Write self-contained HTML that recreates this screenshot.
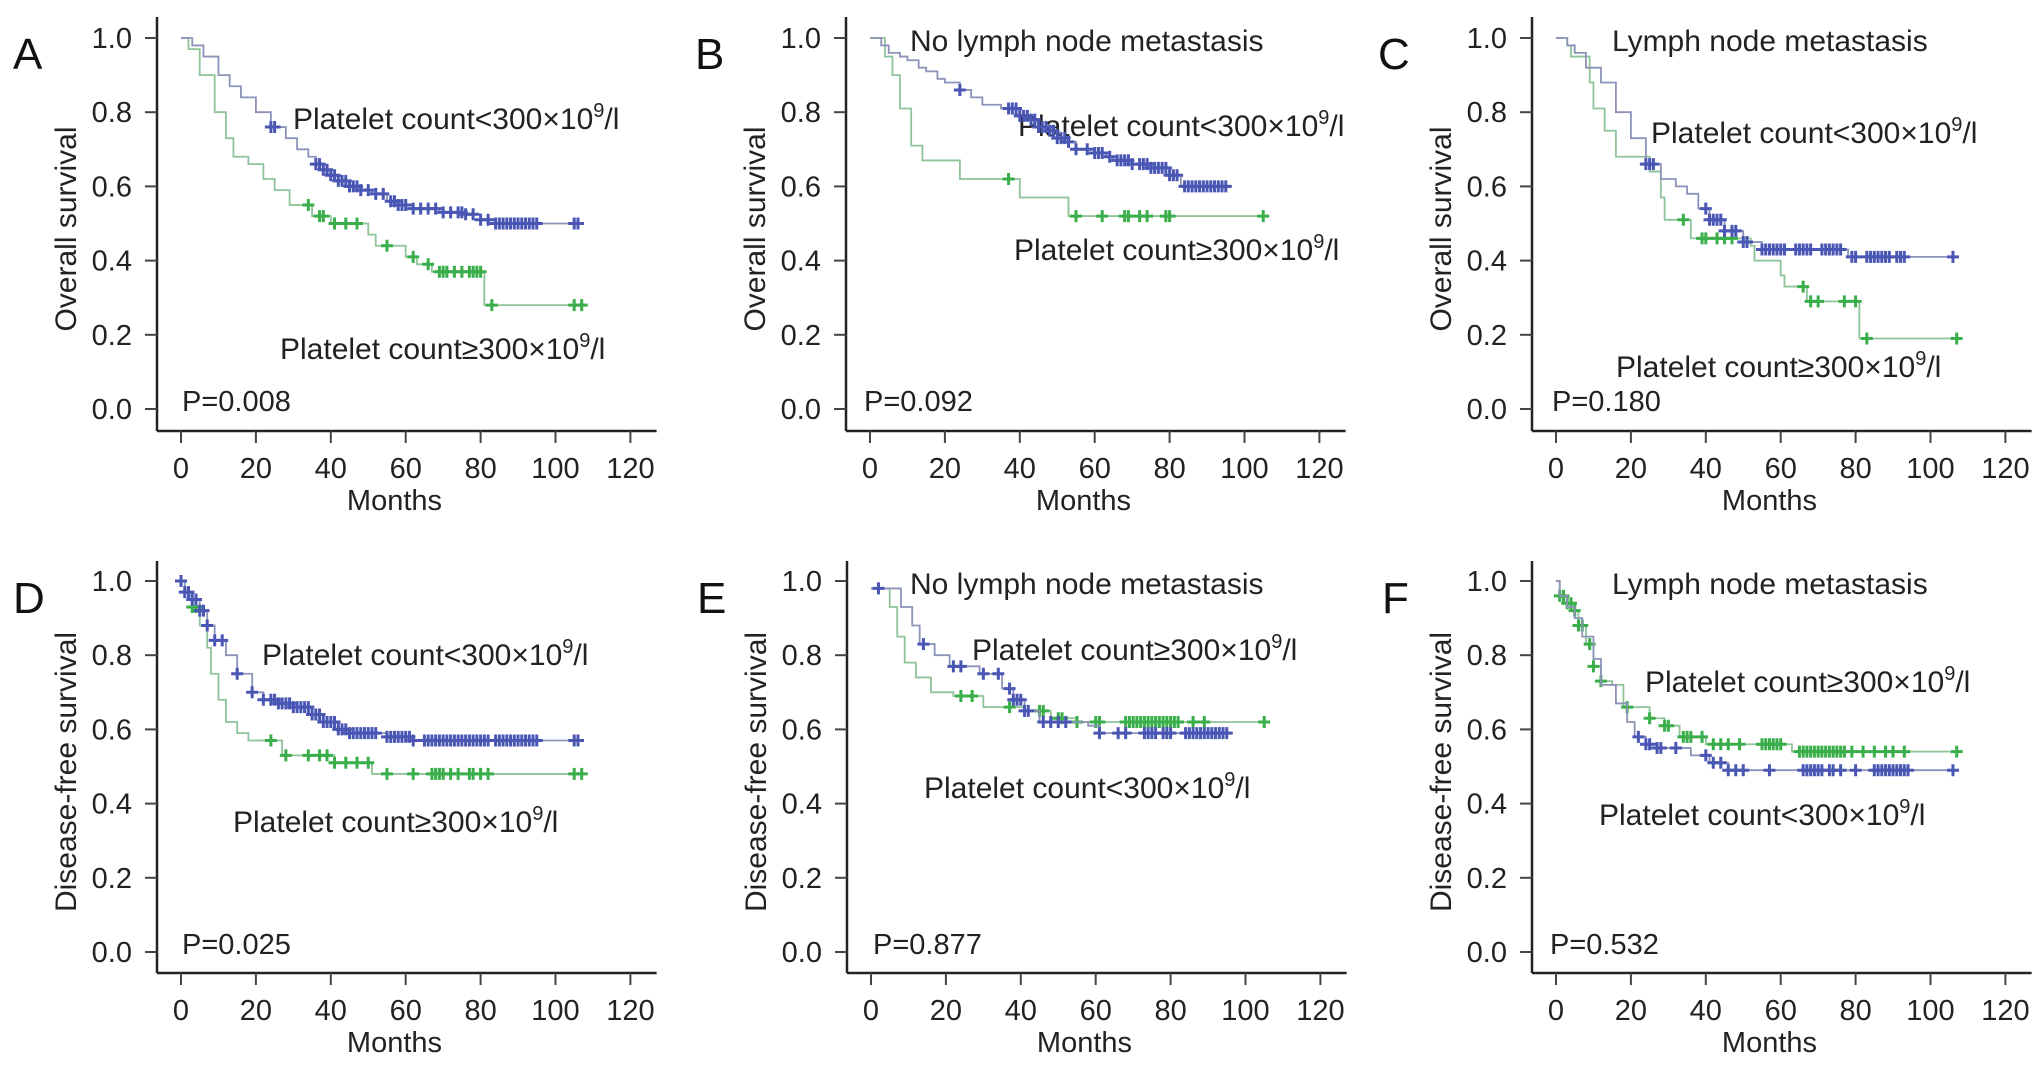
<!DOCTYPE html>
<html><head><meta charset="utf-8"><style>
html,body{margin:0;padding:0;background:#fff;}
svg{display:block;font-family:"Liberation Sans",Arial,sans-serif;}
</style></head><body>
<svg id="fig" width="2032" height="1066" viewBox="0 0 2032 1066" xmlns="http://www.w3.org/2000/svg"></svg>
<script>
// ---------- data (months, survival) ----------
const ticksX = [0,20,40,60,80,100,120];
const ticksY = [0.0,0.2,0.4,0.6,0.8,1.0];
const tickLabelsY = ["0.0","0.2","0.4","0.6","0.8","1.0"];

// Panel A
const aBlueT = [0,3,6,10,13,16,20,24,28,31,34,36,38,40,42,45,48,51,55,58,62,69,76,80,84];
const aBlueS = [1,0.98,0.95,0.90,0.87,0.84,0.80,0.76,0.73,0.70,0.68,0.66,0.645,0.63,0.615,0.60,0.59,0.58,0.56,0.55,0.54,0.53,0.525,0.51,0.50];
const aBlueC = [24,25,36,37,38,39,40,41,42,43,44,45,46,47,48,50,52,54,56,57,58,59,60,62,64,66,68,70,72,74,75,76,78,80,82,84,85,86,87,88,89,90,91,92,93,94,95,105,106];
const aGreenT = [0,2,5,9,12,14,18,22,25,29,35,40,50,52,60,63,67,81];
const aGreenS = [1,0.97,0.90,0.80,0.73,0.68,0.66,0.62,0.59,0.55,0.52,0.50,0.47,0.44,0.41,0.39,0.37,0.28];
const aGreenC = [34,37,38,41,44,47,55,62,66,69,70,71,73,75,77,78,79,80,83,105,107];

// Panel B
const bBlueT = [0,3,5,8,10,13,15,18,20,24,27,30,35,40,43,45,48,50,53,55,60,63,65,70,75,80,83];
const bBlueS = [1,0.98,0.96,0.95,0.94,0.92,0.91,0.89,0.88,0.86,0.84,0.82,0.81,0.79,0.78,0.76,0.75,0.73,0.72,0.70,0.69,0.68,0.67,0.66,0.65,0.63,0.60];
const bBlueC = [24,37,38,39,40,41,42,43,44,45,46,47,48,49,50,51,52,53,55,58,60,61,62,64,66,67,68,69,70,72,73,74,75,76,77,78,79,80,81,82,84,85,86,87,88,89,90,91,92,93,94,95];
const bGreenT = [0,4,6,8,11,14,24,40,53];
const bGreenS = [1,0.95,0.90,0.81,0.71,0.67,0.62,0.57,0.52];
const bGreenC = [37,55,62,68,69,72,74,79,80,105];

// Panel C
const cBlueT = [0,3,5,8,12,16,20,24,28,32,35,38,41,45,50,55,78];
const cBlueS = [1,0.98,0.96,0.92,0.88,0.80,0.73,0.66,0.62,0.60,0.58,0.54,0.51,0.48,0.45,0.43,0.41];
const cBlueC = [24,25,26,40,41,42,43,44,45,47,48,50,51,55,56,57,58,59,60,61,64,65,66,67,68,71,72,73,74,75,76,79,80,83,84,85,86,87,88,89,91,92,93,106];
const cGreenT = [0,3,4,9,10,13,16,25,28,29,36,52,53,60,61,67,81];
const cGreenS = [1,0.98,0.95,0.88,0.81,0.75,0.68,0.64,0.57,0.51,0.46,0.44,0.40,0.36,0.33,0.29,0.19];
const cGreenC = [34,39,40,43,45,47,66,68,70,77,80,83,107];

// Panel D
const dBlueT = [0,1,3,5,7,9,12,15,19,22,26,30,35,38,42,45,55,62];
const dBlueS = [1,0.97,0.95,0.92,0.88,0.84,0.80,0.75,0.70,0.68,0.67,0.66,0.64,0.62,0.60,0.59,0.58,0.57];
const dBlueC = [0,1,2,3,4,5,6,7,9,11,15,19,22,24,25,26,27,28,29,30,31,32,33,34,35,36,37,38,39,40,41,42,43,44,45,46,47,48,49,50,51,52,55,56,57,58,59,60,61,62,65,66,67,68,69,70,71,72,73,74,75,76,77,78,79,80,81,82,84,85,86,87,88,89,90,91,92,93,94,95,105,106];
const dGreenT = [0,1,2,3,5,7,8,10,12,15,18,27,41,51];
const dGreenS = [1,0.98,0.96,0.93,0.88,0.82,0.75,0.68,0.62,0.59,0.57,0.53,0.51,0.48];
const dGreenC = [3,4,24,28,34,37,39,41,44,47,50,55,62,67,68,69,70,72,74,77,78,80,82,105,107];

// Panel E
const eBlueT = [0,6,8,11,13,17,21,29,35,38,41,45,58,61];
const eBlueS = [0.98,0.98,0.93,0.88,0.83,0.80,0.77,0.75,0.71,0.68,0.65,0.62,0.61,0.59];
const eBlueC = [2,14,22,24,30,34,37,38,39,40,41,42,46,48,50,52,61,66,68,73,74,75,76,78,79,80,84,85,86,87,88,89,90,91,92,93,94,95];
const eGreenT = [0,2,5,7,9,12,16,22,30,41,48,55];
const eGreenS = [0.98,0.98,0.93,0.85,0.78,0.74,0.70,0.69,0.66,0.65,0.63,0.62];
const eGreenC = [24,27,37,45,46,50,51,55,60,61,68,69,70,71,72,73,74,75,76,77,78,79,80,81,82,86,89,105];

// Panel F
const fBlueT = [0,1,3,5,7,10,12,16,19,21,24,27,36,41,46];
const fBlueS = [1,0.96,0.93,0.90,0.85,0.79,0.72,0.67,0.62,0.58,0.56,0.55,0.53,0.51,0.49];
const fBlueC = [22,24,25,27,28,32,40,42,44,46,48,50,57,66,67,68,69,70,71,73,74,76,80,85,86,87,88,89,90,91,92,93,94,106];
const fGreenT = [0,1,3,5,6,8,10,12,15,18,25,29,33,40,63];
const fGreenS = [1,0.96,0.94,0.92,0.88,0.83,0.77,0.73,0.72,0.66,0.63,0.61,0.58,0.56,0.54];
const fGreenC = [1,2,3,4,5,6,7,9,10,12,19,25,29,30,34,35,36,39,42,44,46,49,55,56,57,58,59,60,65,66,67,68,69,70,71,72,73,74,75,76,77,79,82,85,88,90,93,107];

const panels = [
 {id:"a",letter:"A",row:0,ylab:"Overall survival",p:"P=0.008",x0:181,title:null,
  blue:[aBlueT,aBlueS,aBlueC],green:[aGreenT,aGreenS,aGreenC],
  labels:[["Platelet count<300×10","<",293,129],["Platelet count≥300×10","≥",280,359]],px:182},
 {id:"b",letter:"B",row:0,ylab:"Overall survival",p:"P=0.092",x0:870,title:["No lymph node metastasis",910],
  blue:[bBlueT,bBlueS,bBlueC],green:[bGreenT,bGreenS,bGreenC],
  labels:[["Platelet count<300×10","<",1018,136],["Platelet count≥300×10","≥",1014,260]],px:864},
 {id:"c",letter:"C",row:0,ylab:"Overall survival",p:"P=0.180",x0:1556,title:["Lymph node metastasis",1612],
  blue:[cBlueT,cBlueS,cBlueC],green:[cGreenT,cGreenS,cGreenC],
  labels:[["Platelet count<300×10","<",1651,143],["Platelet count≥300×10","≥",1616,377]],px:1552},
 {id:"d",letter:"D",row:1,ylab:"Disease-free survival",p:"P=0.025",x0:181,title:null,
  blue:[dBlueT,dBlueS,dBlueC],green:[dGreenT,dGreenS,dGreenC],
  labels:[["Platelet count<300×10","<",262,665],["Platelet count≥300×10","≥",233,832]],px:182},
 {id:"e",letter:"E",row:1,ylab:"Disease-free survival",p:"P=0.877",x0:871,title:["No lymph node metastasis",910],
  blue:[eBlueT,eBlueS,eBlueC],green:[eGreenT,eGreenS,eGreenC],
  labels:[["Platelet count≥300×10","≥",972,660],["Platelet count<300×10","<",924,798]],px:873},
 {id:"f",letter:"F",row:1,ylab:"Disease-free survival",p:"P=0.532",x0:1556,title:["Lymph node metastasis",1612],
  blue:[fBlueT,fBlueS,fBlueC],green:[fGreenT,fGreenS,fGreenC],
  labels:[["Platelet count≥300×10","≥",1645,692],["Platelet count<300×10","<",1599,825]],px:1550}
];
const rows = [{y1:38,y0:409,axis:431,top:17},{y1:581,y0:952,axis:973,top:561}];
const PXPM = 3.745;
const NS="http://www.w3.org/2000/svg";
const svg=document.getElementById('fig');
function mk(tag,attrs,parent){const e=document.createElementNS(NS,tag);for(const k in attrs)e.setAttribute(k,attrs[k]);(parent||svg).appendChild(e);return e;}
function stepAt(T,S,t){let s=S[0];for(let i=0;i<T.length;i++){if(T[i]<=t)s=S[i];}return s;}

panels.forEach(pn=>{
  const r=rows[pn.row];
  const xs=m=>pn.x0+m*PXPM;
  const ys=v=>r.y0-(r.y0-r.y1)*v;
  const g=mk('g',{});
  
  
  const ax=pn.x0-24;
  const yaxis=mk('line',{x1:ax,y1:r.top,x2:ax,y2:r.axis,stroke:'#222','stroke-width':2.5},g);
  
  
  const xaxis=mk('line',{x1:ax,y1:r.axis,x2:xs(127),y2:r.axis,stroke:'#222','stroke-width':2.5},g);
  
  
  ticksY.forEach((v,i)=>{
    mk('line',{x1:ax-12,y1:ys(v),x2:ax,y2:ys(v),stroke:'#444','stroke-width':2},g);
    const t=mk('text',{x:ax-25,y:ys(v)+10,'text-anchor':'end','font-size':29,fill:'#222'},g);
    t.textContent=tickLabelsY[i];
    
    
  });
  ticksX.forEach(v=>{
    mk('line',{x1:xs(v),y1:r.axis,x2:xs(v),y2:r.axis+12,stroke:'#444','stroke-width':2},g);
    const t=mk('text',{x:xs(v),y:r.axis+47,'text-anchor':'middle','font-size':29,fill:'#222'},g);
    t.textContent=v;
    
    
  });
  const xt=mk('text',{x:xs(57),y:r.axis+79,'text-anchor':'middle','font-size':29,fill:'#222'},g);
  xt.textContent='Months';
  
  
  const yc=(r.top+r.axis)/2+5;
  const ytx=ax-81;
  const yt=mk('text',{x:ytx,y:yc,'text-anchor':'middle','font-size':30,fill:'#222',transform:`rotate(-90 ${ytx} ${yc})`},g);
  yt.textContent=pn.ylab;
  
  
  const lx={A:13,B:695,C:1378,D:13,E:697,F:1382}[pn.letter];
  const lt=mk('text',{x:lx,y:r.top+52,'font-size':44,fill:'#111'},g);
  lt.textContent=pn.letter;
  
  
  if(pn.title){
    const tt=mk('text',{x:pn.title[1],y:r.y1+13,'font-size':30,fill:'#222'},g);
    tt.textContent=pn.title[0];
    
    
  }
  const pt=mk('text',{x:pn.px,y:r.y0+2,'font-size':29,fill:'#222'},g);
  pt.textContent=pn.p;
  
  
  pn.labels.forEach(L=>{
    const t=mk('text',{x:L[2],y:L[3],'font-size':30,fill:'#222'},g);
    
    
    t.appendChild(document.createTextNode(L[0]));
    const sp=document.createElementNS(NS,'tspan');sp.setAttribute('dy','-12');sp.setAttribute('font-size','20');sp.textContent='9';t.appendChild(sp);
    const sp2=document.createElementNS(NS,'tspan');sp2.setAttribute('dy','12');sp2.textContent='/l';t.appendChild(sp2);
  });
  [['green',pn.green,'#8fc49a','#3aae4a'],['blue',pn.blue,'#8c93b8','#4a56b4']].forEach(([nm,[T,S,C],lc,mc])=>{
    const end=Math.max(T[T.length-1],C[C.length-1]);
    let d=`M${xs(T[0])},${ys(S[0])}`;
    for(let i=1;i<T.length;i++){d+=` H${xs(T[i])} V${ys(S[i])}`;}
    d+=` H${xs(end)}`;
    const p=mk('path',{d:d,fill:'none',stroke:lc,'stroke-width':1.8},g);
    
    
    C.forEach(c=>{
      const x=xs(c),y=ys(stepAt(T,S,c));
      const m=mk('path',{d:`M${x-6},${y} H${x+6} M${x},${y-6} V${y+6}`,stroke:mc,'stroke-width':3,fill:'none'},g);
      
      
    });
  });
});
</script>
</body></html>
